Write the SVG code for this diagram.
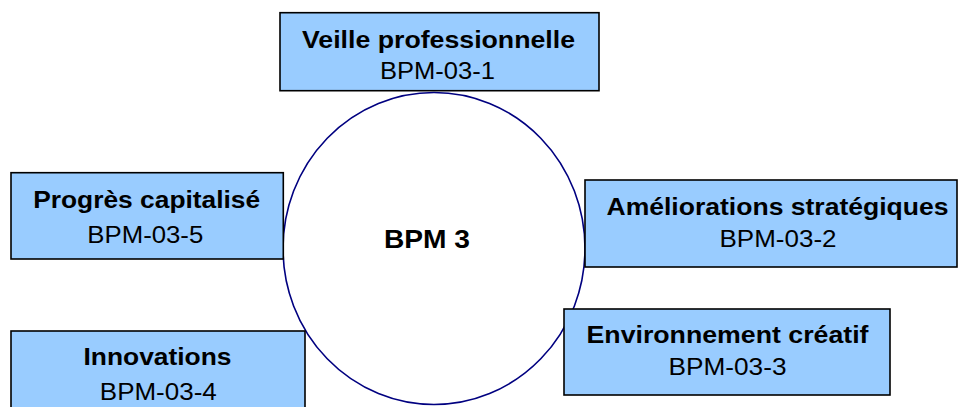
<svg xmlns="http://www.w3.org/2000/svg" width="959" height="407" viewBox="0 0 959 407">
  <style>
    .box { fill: #99CCFF; stroke: #000000; stroke-width: 1.6; }
    .hub { fill: #FFFFFF; stroke: #000080; stroke-width: 1.6; }
    .t { font-family: "Liberation Sans", Arial, sans-serif; font-size: 23px; fill: #000000; text-anchor: middle; }
    .b { font-weight: bold; }
  </style>

  <rect width="959" height="407" fill="#FFFFFF"/>

  <!-- central hub -->
  <g id="bpm3">
    <ellipse class="hub" cx="434" cy="248.5" rx="151" ry="156"/>
    <text class="t b" x="427" y="248" style="font-size:25px" textLength="86" lengthAdjust="spacingAndGlyphs">BPM 3</text>
  </g>

  <!-- connectors (none: the boxes sit around the hub) -->
  <g id="connectors"></g>

  <g id="bpm-03-1">
    <rect class="box" x="280" y="12.7" width="319" height="78"/>
    <text class="t b" x="438.5" y="48" textLength="273" lengthAdjust="spacingAndGlyphs">Veille professionnelle</text>
    <text class="t" x="437.5" y="79" textLength="115" lengthAdjust="spacingAndGlyphs">BPM-03-1</text>
  </g>

  <g id="bpm-03-2">
    <rect class="box" x="585" y="180" width="372" height="87"/>
    <text class="t b" x="777.5" y="215" textLength="342" lengthAdjust="spacingAndGlyphs">Améliorations stratégiques</text>
    <text class="t" x="778" y="246.7" textLength="117" lengthAdjust="spacingAndGlyphs">BPM-03-2</text>
  </g>

  <g id="bpm-03-3">
    <rect class="box" x="564" y="309" width="326" height="86"/>
    <text class="t b" x="727.5" y="343.3" textLength="282" lengthAdjust="spacingAndGlyphs">Environnement créatif</text>
    <text class="t" x="727.5" y="375" textLength="118" lengthAdjust="spacingAndGlyphs">BPM-03-3</text>
  </g>

  <g id="bpm-03-4">
    <rect class="box" x="11" y="331" width="294" height="90"/>
    <text class="t b" x="157.5" y="365" textLength="148" lengthAdjust="spacingAndGlyphs">Innovations</text>
    <text class="t" x="158.3" y="400" textLength="117" lengthAdjust="spacingAndGlyphs">BPM-03-4</text>
  </g>

  <g id="bpm-03-5">
    <rect class="box" x="11" y="172.7" width="272.3" height="86.3"/>
    <text class="t b" x="146.7" y="208.3" textLength="227" lengthAdjust="spacingAndGlyphs">Progrès capitalisé</text>
    <text class="t" x="145.3" y="242.7" textLength="116" lengthAdjust="spacingAndGlyphs">BPM-03-5</text>
  </g>
</svg>
